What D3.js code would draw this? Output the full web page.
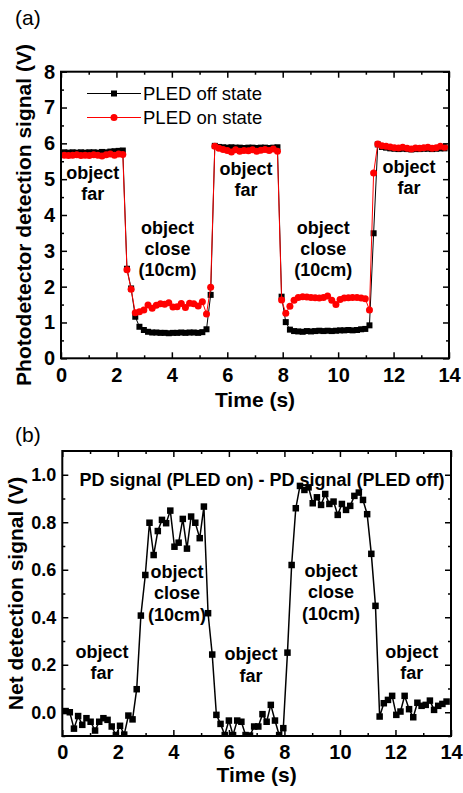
<!DOCTYPE html>
<html>
<head>
<meta charset="utf-8">
<title>PLED proximity sensing</title>
<style>
  body, html { margin: 0; padding: 0; background: white; }
  svg { display: block; font-family: "Liberation Sans", Arial, sans-serif; }
</style>
</head>
<body>
<svg id="chart" width="463" height="793"></svg>
<script src="https://d3js.org/d3.v7.min.js"></script>
<script>
  // sample times (s), shared by both panels
  const time = [0.12, 0.27, 0.42, 0.57, 0.72, 0.87, 1.02, 1.18, 1.33, 1.48, 1.63, 1.78, 1.93, 2.08, 2.23,
    2.38, 2.53, 2.68, 2.83, 2.99, 3.14, 3.29, 3.44, 3.59, 3.74, 3.89, 4.04, 4.19, 4.34, 4.49, 4.64, 4.79,
    4.95, 5.10, 5.25, 5.40, 5.55, 5.70, 5.85, 6.00, 6.15, 6.30, 6.45, 6.60, 6.76, 6.91, 7.06, 7.21, 7.36,
    7.51, 7.66, 7.81, 7.96, 8.11, 8.26, 8.41, 8.56, 8.72, 8.87, 9.02, 9.17, 9.32, 9.47, 9.62, 9.77, 9.92,
    10.07, 10.22, 10.37, 10.52, 10.68, 10.83, 10.98, 11.13, 11.28, 11.43, 11.58, 11.73, 11.88, 12.03,
    12.18, 12.33, 12.49, 12.64, 12.79, 12.94, 13.09, 13.24, 13.39, 13.54, 13.69, 13.84]

  // (a) photodetector signal, PLED off (black) and on (red), V
  const offState = [5.75, 5.74, 5.75, 5.74, 5.75, 5.74, 5.75, 5.75, 5.74, 5.76, 5.75, 5.77, 5.78, 5.79, 5.80,
    2.50, 1.95, 1.16, 0.88, 0.79, 0.74, 0.72, 0.72, 0.71, 0.71, 0.70, 0.71, 0.71, 0.72, 0.71, 0.72, 0.72,
    0.71, 0.73, 0.81, 1.77, 5.93, 5.90, 5.89, 5.88, 5.89, 5.88, 5.88, 5.87, 5.88, 5.88, 5.87, 5.88, 5.88,
    5.87, 5.88, 5.89, 1.72, 1.01, 0.80, 0.76, 0.75, 0.74, 0.76, 0.75, 0.76, 0.77, 0.76, 0.77, 0.76, 0.77,
    0.78, 0.78, 0.79, 0.78, 0.79, 0.81, 0.82, 0.92, 3.49, 5.97, 5.90, 5.88, 5.86, 5.85, 5.84, 5.85, 5.84,
    5.83, 5.84, 5.84, 5.85, 5.85, 5.84, 5.85, 5.86, 5.86]
  const onState = [5.67, 5.66, 5.67, 5.68, 5.66, 5.67, 5.66, 5.68, 5.67, 5.65, 5.68, 5.70, 5.67, 5.70, 5.69,
    2.47, 1.93, 1.27, 1.30, 1.35, 1.49, 1.40, 1.48, 1.52, 1.51, 1.55, 1.43, 1.44, 1.53, 1.42, 1.54, 1.52,
    1.46, 1.58, 1.24, 1.98, 5.92, 5.86, 5.83, 5.80, 5.76, 5.82, 5.78, 5.80, 5.79, 5.82, 5.78, 5.81, 5.83,
    5.80, 5.84, 5.78, 1.63, 1.26, 1.45, 1.62, 1.70, 1.72, 1.71, 1.70, 1.69, 1.68, 1.70, 1.74, 1.62, 1.50,
    1.64, 1.68, 1.69, 1.70, 1.70, 1.68, 1.66, 1.35, 5.17, 5.98, 5.93, 5.92, 5.90, 5.88, 5.87, 5.89, 5.86,
    5.84, 5.87, 5.86, 5.88, 5.89, 5.86, 5.88, 5.92, 5.89]

  // (b) net detection signal, V
  const netSignal = [0.005, 0.0, -0.069, -0.016, -0.053, -0.025, -0.04, -0.077, -0.04, -0.025, -0.032,
    -0.06, -0.096, -0.057, -0.094, -0.014, -0.03, 0.097, 0.407, 0.578, 0.798, 0.662, 0.763, 0.81, 0.796,
    0.849, 0.697, 0.714, 0.814, 0.689, 0.824, 0.798, 0.733, 0.866, 0.417, 0.243, -0.011, -0.049, -0.096,
    -0.035, -0.096, -0.035, -0.04, -0.096, -0.098, -0.06, -0.06, -0.008, -0.04, 0.031, -0.035, -0.096,
    -0.067, 0.251, 0.62, 0.859, 0.953, 0.936, 0.947, 0.88, 0.905, 0.873, 0.919, 0.877, 0.887, 0.831,
    0.877, 0.852, 0.869, 0.911, 0.925, 0.894, 0.834, 0.667, 0.448, -0.018, 0.038, 0.052, 0.069, -0.011,
    0.003, 0.069, 0.013, -0.021, 0.04, 0.027, 0.031, 0.049, 0.01, 0.027, 0.035, 0.045]

  const xMajor = [0, 2, 4, 6, 8, 10, 12, 14]
  const xMinor = [1, 3, 5, 7, 9, 11, 13]
  const yMajorA = [0, 1, 2, 3, 4, 5, 6, 7, 8]
  const yMinorA = [0.5, 1.5, 2.5, 3.5, 4.5, 5.5, 6.5, 7.5]
  const yMajorB = [0, 0.2, 0.4, 0.6, 0.8, 1.0]
  const yMinorB = [-0.1, 0.1, 0.3, 0.5, 0.7, 0.9]

  const legendLabels = ['PLED off state', 'PLED on state']
  const legendColors = ['black', '#ff0000']

  // annotation text, placed in data units
  const notesA = [
    { t: 1.15, v: 5.17, lines: ['object', 'far'] },
    { t: 3.84, v: 3.64, lines: ['object', 'close', '(10cm)'] },
    { t: 6.68, v: 5.28, lines: ['object', 'far'] },
    { t: 9.46, v: 3.64, lines: ['object', 'close', '(10cm)'] },
    { t: 12.56, v: 5.34, lines: ['object', 'far'] }
  ]
  const notesB = [
    { t: 4.13, v: 0.591, lines: ['object', 'close', '(10cm)'] },
    { t: 9.68, v: 0.595, lines: ['object', 'close', '(10cm)'] },
    { t: 1.43, v: 0.254, lines: ['object', 'far'] },
    { t: 6.80, v: 0.245, lines: ['object', 'far'] },
    { t: 12.59, v: 0.254, lines: ['object', 'far'] }
  ]

  const svg = d3.select('#chart')
  svg.append('rect').attr('width', 463).attr('height', 793).attr('fill', 'white')

  function drawAxes(x, y, yMajor, yMinor, yFmt, yFont, xPad) {
    const [x0, x1] = x.range()
    const [y0, y1] = y.range()
    const axes = svg.append('g')

    const put = (axis, tx, ty) => {
      const g = axes.append('g')
        .attr('transform', `translate(${tx},${ty})`)
        .call(axis)
        .attr('font-size', null)
        .attr('font-family', null)
      g.select('.domain').remove()
      g.selectAll('line').attr('stroke', 'black').attr('stroke-width', 1.5)
      return g
    }

    // major ticks with labels
    put(d3.axisBottom(x).tickValues(xMajor).tickSize(-6).tickPadding(xPad).tickFormat(d3.format('d')), 0, y0)
      .selectAll('text')
      .style('font-size', '20px').style('font-weight', 'bold').attr('fill', 'black')
    put(d3.axisLeft(y).tickValues(yMajor).tickSize(-6).tickPadding(6).tickFormat(yFmt), x0, 0)
      .selectAll('text')
      .style('font-size', yFont).style('font-weight', 'bold').attr('fill', 'black')
    put(d3.axisTop(x).tickValues(xMajor).tickSize(-6).tickFormat(''), 0, y1)
    put(d3.axisRight(y).tickValues(yMajor).tickSize(-6).tickFormat(''), x1, 0)

    // minor ticks
    put(d3.axisBottom(x).tickValues(xMinor).tickSize(-3).tickFormat(''), 0, y0)
    put(d3.axisTop(x).tickValues(xMinor).tickSize(-3).tickFormat(''), 0, y1)
    put(d3.axisLeft(y).tickValues(yMinor).tickSize(-3).tickFormat(''), x0, 0)
    put(d3.axisRight(y).tickValues(yMinor).tickSize(-3).tickFormat(''), x1, 0)
  }

  function drawFrame(x, y) {
    const [x0, x1] = x.range()
    const [y0, y1] = y.range()
    svg.append('rect')
      .attr('x', x0).attr('y', y1)
      .attr('width', x1 - x0).attr('height', y0 - y1)
      .attr('fill', 'none').attr('stroke', 'black').attr('stroke-width', 2)
  }

  function drawNotes(notes, x, y, lineGap) {
    notes.forEach(n => {
      n.lines.forEach((s, i) => {
        svg.append('text')
          .attr('x', x(n.t))
          .attr('y', y(n.v) + i * lineGap)
          .attr('text-anchor', 'middle')
          .attr('dominant-baseline', 'central')
          .style('font-size', '18px')
          .style('font-weight', 'bold')
          .text(s)
      })
    })
  }

  function squares(g, pts, x, y, size) {
    g.selectAll('rect.pt')
      .data(pts)
      .join('rect')
      .attr('class', 'pt')
      .attr('x', d => x(d.t) - size / 2)
      .attr('y', d => y(d.v) - size / 2)
      .attr('width', size).attr('height', size)
      .attr('fill', 'black')
  }

  // Panel (a) ---------------------------------------------

  const xA = d3.scaleLinear().domain([0, 14]).range([61, 449])
  const yA = d3.scaleLinear().domain([0, 8]).range([358.3, 71.7])

  const offPts = time.map((t, i) => ({ t, v: offState[i] }))
  const onPts = time.map((t, i) => ({ t, v: onState[i] }))

  const lineA = d3.line().x(d => xA(d.t)).y(d => yA(d.v))

  const gOff = svg.append('g')
  gOff.append('path').datum(offPts)
    .attr('d', lineA).attr('fill', 'none').attr('stroke', 'black').attr('stroke-width', 1)
  squares(gOff, offPts, xA, yA, 6)

  const gOn = svg.append('g')
  gOn.append('path').datum(onPts)
    .attr('d', lineA).attr('fill', 'none').attr('stroke', '#ff0000').attr('stroke-width', 1)
  gOn.selectAll('circle')
    .data(onPts)
    .join('circle')
    .attr('cx', d => xA(d.t))
    .attr('cy', d => yA(d.v))
    .attr('r', 3.5)
    .attr('fill', '#ff0000')

  drawAxes(xA, yA, yMajorA, yMinorA, d3.format('d'), '20px', 10)
  drawFrame(xA, yA)
  drawNotes(notesA, xA, yA, 21)

  // legend
  const legend = svg.append('g')
  legendLabels.forEach((label, i) => {
    const ly = 93.5 + i * 24
    legend.append('line')
      .attr('x1', 87).attr('x2', 141).attr('y1', ly).attr('y2', ly)
      .attr('stroke', legendColors[i]).attr('stroke-width', 1)
    if (i === 0) {
      legend.append('rect').attr('x', 111).attr('y', ly - 3).attr('width', 6).attr('height', 6).attr('fill', 'black')
    } else {
      legend.append('circle').attr('cx', 114).attr('cy', ly).attr('r', 3.5).attr('fill', legendColors[i])
    }
    legend.append('text')
      .attr('x', 143).attr('y', ly)
      .attr('dominant-baseline', 'central')
      .style('font-size', '18.5px')
      .text(label)
  })

  svg.append('text').attr('x', 15).attr('y', 25).style('font-size', '21px').text('(a)')

  svg.append('text')
    .attr('x', xA(7)).attr('y', 407)
    .attr('text-anchor', 'middle')
    .style('font-size', '21px').style('font-weight', 'bold')
    .text('Time (s)')

  svg.append('text')
    .attr('transform', `translate(31,${yA(4)}) rotate(-90)`)
    .attr('text-anchor', 'middle')
    .style('font-size', '21px').style('font-weight', 'bold')
    .text('Photodetector detection signal (V)')

  // Panel (b) ---------------------------------------------

  const xB = d3.scaleLinear().domain([0, 14]).range([62.3, 451])
  const yB = d3.scaleLinear().domain([-0.1, 1.1]).range([736, 451])

  const netPts = time.map((t, i) => ({ t, v: netSignal[i] }))

  svg.append('clipPath').attr('id', 'clip-b')
    .append('rect')
    .attr('x', xB(0)).attr('y', yB(1.1))
    .attr('width', xB(14) - xB(0)).attr('height', yB(-0.1) - yB(1.1))

  const gNet = svg.append('g').attr('clip-path', 'url(#clip-b)')
  gNet.append('path').datum(netPts)
    .attr('d', d3.line().x(d => xB(d.t)).y(d => yB(d.v)))
    .attr('fill', 'none').attr('stroke', 'black').attr('stroke-width', 1.5)
  squares(gNet, netPts, xB, yB, 6.5)

  drawAxes(xB, yB, yMajorB, yMinorB, d3.format('.1f'), '18px', 9)
  drawFrame(xB, yB)
  drawNotes(notesB, xB, yB, 21.5)

  svg.append('text')
    .attr('x', xB(7.19)).attr('y', yB(0.978))
    .attr('text-anchor', 'middle')
    .attr('dominant-baseline', 'central')
    .style('font-size', '18px').style('font-weight', 'bold')
    .text('PD signal (PLED on) - PD signal (PLED off)')

  svg.append('text').attr('x', 15).attr('y', 442).style('font-size', '21px').text('(b)')

  svg.append('text')
    .attr('x', xB(7)).attr('y', 782)
    .attr('text-anchor', 'middle')
    .style('font-size', '21px').style('font-weight', 'bold')
    .text('Time (s)')

  svg.append('text')
    .attr('transform', `translate(22.5,${yB(0.5)}) rotate(-90)`)
    .attr('text-anchor', 'middle')
    .style('font-size', '21px').style('font-weight', 'bold')
    .text('Net detection signal (V)')
</script>
</body>
</html>
